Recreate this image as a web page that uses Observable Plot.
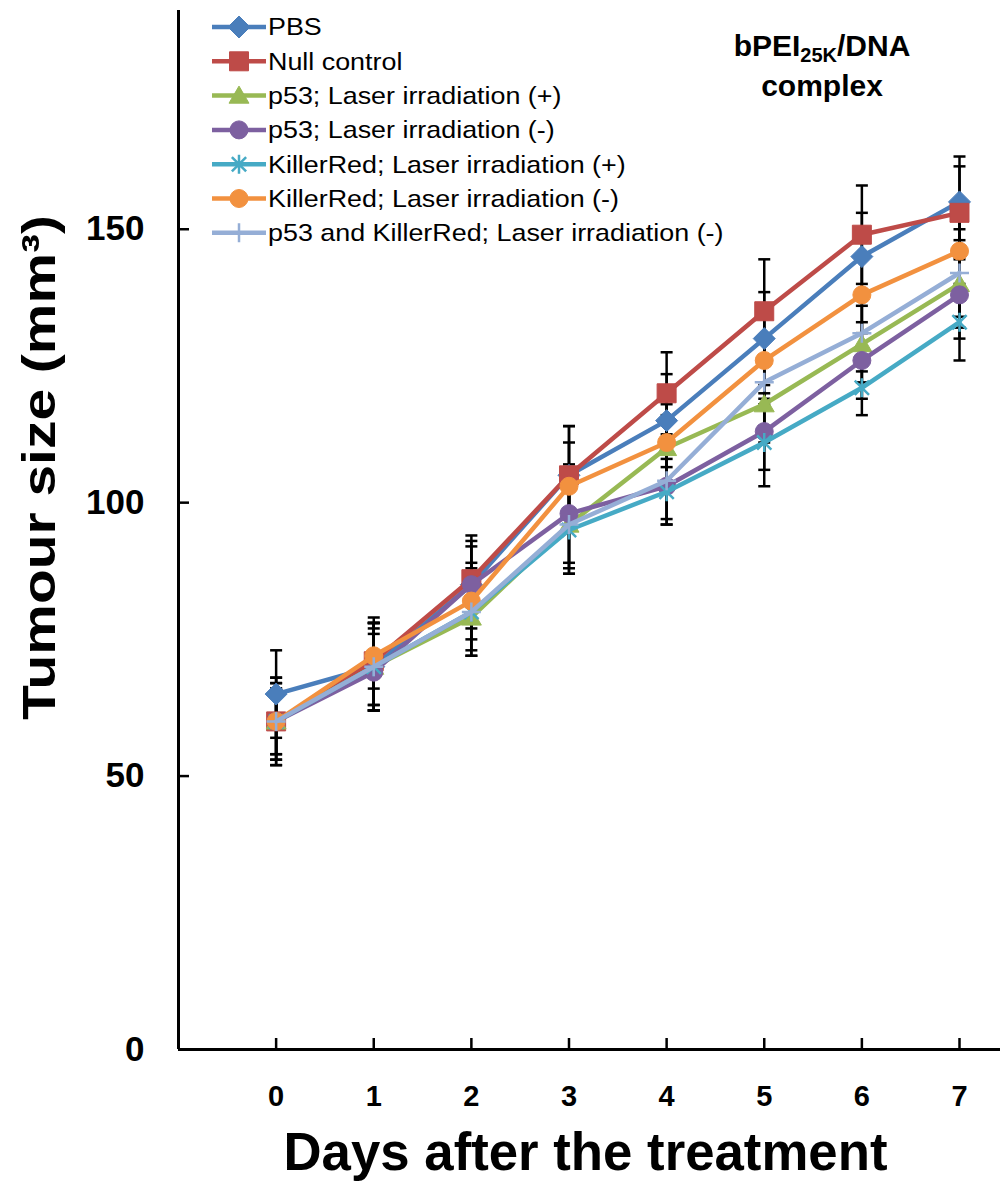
<!DOCTYPE html>
<html><head><meta charset="utf-8">
<script src="https://cdn.jsdelivr.net/npm/d3@7"></script>
<script src="https://cdn.jsdelivr.net/npm/@observablehq/plot@0.6"></script>
<style>
body{margin:0;background:#fff;}
#wrap{position:relative;width:1000px;height:1184px;font-family:"Liberation Sans",Arial,sans-serif;}
#wrap svg{display:block;}
#overlay{position:absolute;left:0;top:0;pointer-events:none;}
</style></head><body><div id="wrap"></div>
<script>
// ---------- data ----------
const days = [0, 1, 2, 3, 4, 5, 6, 7];
const yTicks = [0, 50, 100, 150];
const seriesNames = [
  "PBS",
  "Null control",
  "p53; Laser irradiation (+)",
  "p53; Laser irradiation (-)",
  "KillerRed; Laser irradiation (+)",
  "KillerRed; Laser irradiation (-)",
  "p53 and KillerRed; Laser irradiation (-)"
];
const pbs      = [65, 70, 85, 105, 115, 130, 145, 155];
const nullCtl  = [60, 71, 86, 105, 120, 135, 149, 153];
const p53Plus  = [60, 70, 79, 96, 110, 118, 129, 140];
const p53Minus = [60, 69, 85, 98, 103, 113, 126, 138];
const krPlus   = [60, 70, 80, 95, 102, 111, 121, 133];
const krMinus  = [60, 72, 82, 103, 111, 126, 138, 146];
const combo    = [60, 70, 80, 96, 104, 122, 131, 142];
const pbsErr      = [8, 8, 7, 9, 8.5, 8.5, 8, 8.3];
const nullErr     = [7, 8, 8, 9, 7.5, 9.5, 9, 8.5];
const p53PlusErr  = [6, 7, 7, 8, 6, 7, 7, 8];
const p53MinusErr = [8, 7, 8, 9, 7, 7, 7, 8];
const krPlusErr   = [7, 8, 7, 8, 6, 8, 5, 7];
const krMinusErr  = [8, 6, 7, 8, 7, 8, 7, 8];
const comboErr    = [6, 8, 8, 9, 7, 8, 7, 8];
const xLabel = "Days after the treatment";
const yLabel = "Tumour size (mm³)";

const values = [pbs, nullCtl, p53Plus, p53Minus, krPlus, krMinus, combo];
const errors = [pbsErr, nullErr, p53PlusErr, p53MinusErr, krPlusErr, krMinusErr, comboErr];
const colors = ["#4A7EBB", "#BE4B48", "#98B954", "#7D60A0", "#46AAC5", "#F2913F", "#95AED6"];

// ---------- symbols ----------
const R = s => Math.sqrt(s / Math.PI);
const symDiamond = {draw(c, s){const r=R(s); c.moveTo(0,-r); c.lineTo(r,0); c.lineTo(0,r); c.lineTo(-r,0); c.closePath();}};
const symSquare  = {draw(c, s){const r=R(s); c.rect(-r,-r,2*r,2*r);}};
const symTri     = {draw(c, s){const r=R(s); c.moveTo(0,-r); c.lineTo(r*1.05,r*0.8); c.lineTo(-r*1.05,r*0.8); c.closePath();}};
const symCircle  = {draw(c, s){const r=R(s); c.moveTo(r,0); c.arc(0,0,r,0,2*Math.PI);}};
const symStar    = {draw(c, s){const r=R(s), a=r*0.75; c.moveTo(0,-r); c.lineTo(0,r); c.moveTo(-a,-a); c.lineTo(a,a); c.moveTo(-a,a); c.lineTo(a,-a);}};
const symPlus    = {draw(c, s){const r=R(s); c.moveTo(0,-r); c.lineTo(0,r); c.moveTo(-r,0); c.lineTo(r,0);}};
const symCap     = {draw(c, s){const r=R(s); c.moveTo(-r,0); c.lineTo(r,0);}};
const markerStyle = [
  {symbol: symDiamond, r: 11,  filled: true},
  {symbol: symSquare,  r: 9.5, filled: true},
  {symbol: symTri,     r: 9.5, filled: true},
  {symbol: symCircle,  r: 9,   filled: true},
  {symbol: symStar,    r: 9.5, filled: false},
  {symbol: symCircle,  r: 9,   filled: true},
  {symbol: symPlus,    r: 9.5, filled: false}
];

const rows = [];
seriesNames.forEach((name, si) => days.forEach((d, i) => rows.push({series: name, si, day: d, value: values[si][i], err: errors[si][i]})));

const xDomain = [-1, 7.42];
const marks = [
  Plot.link(rows, {x1: "day", x2: "day", y1: d => d.value - d.err, y2: d => d.value + d.err, stroke: "black", strokeWidth: 2.5}),
  Plot.dot(rows, {x: "day", y: d => d.value + d.err, symbol: symCap, r: 6, stroke: "black", strokeWidth: 2.5, fill: "none"}),
  Plot.dot(rows, {x: "day", y: d => d.value - d.err, symbol: symCap, r: 6, stroke: "black", strokeWidth: 2.5, fill: "none"})
];
seriesNames.forEach((name, si) => {
  const data = rows.filter(d => d.si === si);
  const m = markerStyle[si];
  marks.push(Plot.line(data, {x: "day", y: "value", stroke: colors[si], strokeWidth: 4.5, strokeLinejoin: "round"}));
  marks.push(Plot.dot(data, {x: "day", y: "value", symbol: m.symbol, r: m.r,
    fill: m.filled ? colors[si] : "none", stroke: colors[si], strokeWidth: m.filled ? 1 : 2.5}));
});
marks.push(
  Plot.ruleY([0], {stroke: "black", strokeWidth: 3}),
  Plot.ruleX([xDomain[0]], {stroke: "black", strokeWidth: 3}),
  Plot.axisX(days, {label: null, tickSize: -11, tickPadding: 47, fontSize: 29, fontWeight: "bold", strokeWidth: 2.5, tickFormat: d => String(d)}),
  Plot.axisY(yTicks, {label: null, tickSize: -11, tickPadding: 45, fontSize: 35, fontWeight: "bold", strokeWidth: 2.5, tickFormat: d => String(d)}),
  Plot.text([yLabel], {frameAnchor: "left", rotate: -90, textAnchor: "start", dx: -138, dy: 190, fontSize: 46, fontWeight: "bold", fill: "black"}),
  Plot.text([xLabel], {frameAnchor: "bottom", textAnchor: "start", dx: 283 - 589, dy: 120, fontSize: 53, fontWeight: "bold", fill: "black"})
);

const chart = Plot.plot({
  width: 1000, height: 1184,
  marginLeft: 178, marginRight: 0, marginTop: 10, marginBottom: 135,
  x: {domain: xDomain, axis: null},
  y: {domain: [0, 190], axis: null},
  style: {fontFamily: '"Liberation Sans", Arial, sans-serif', color: "black", background: "white", overflow: "visible"},
  marks
});
document.getElementById("wrap").appendChild(chart);

// stretch big axis titles to their measured lengths
d3.select(chart).selectAll("text").each(function(){
  const t = this.textContent;
  if (t === xLabel) d3.select(this).attr("textLength", 604).attr("lengthAdjust", "spacingAndGlyphs");
  if (t === yLabel) d3.select(this).attr("textLength", 505).attr("lengthAdjust", "spacingAndGlyphs");
});

// ---------- legend + title overlay ----------
const ov = d3.select("#wrap").append("svg").attr("id", "overlay").attr("width", 1000).attr("height", 1184)
  .style("font-family", '"Liberation Sans", Arial, sans-serif');
const lg = ov.append("g");
seriesNames.forEach((name, i) => {
  const g = lg.append("g").attr("transform", `translate(0,${27 + i * 34.3})`);
  g.append("line").attr("x1", 212).attr("x2", 266).attr("stroke", colors[i]).attr("stroke-width", 4.5);
  const m = markerStyle[i];
  g.append("path").attr("transform", "translate(239,0)")
    .attr("d", d3.symbol(m.symbol, Math.PI * m.r * m.r)())
    .attr("fill", m.filled ? colors[i] : "none").attr("stroke", colors[i]).attr("stroke-width", m.filled ? 1 : 2.5);
  g.append("text").attr("transform", "translate(268,0) scale(1.12,1)").attr("dy", "0.35em")
    .attr("font-size", 24).text(name);
});
const title = ov.append("text").attr("x", 822).attr("y", 56).attr("text-anchor", "middle")
  .attr("font-size", 30).attr("font-weight", "bold");
title.append("tspan").text("bPEI");
title.append("tspan").attr("font-size", 20).attr("dy", 6).text("25K");
title.append("tspan").attr("dy", -6).text("/DNA");
ov.append("text").attr("x", 822).attr("y", 96).attr("text-anchor", "middle")
  .attr("font-size", 30).attr("font-weight", "bold").text("complex");
</script></body></html>
